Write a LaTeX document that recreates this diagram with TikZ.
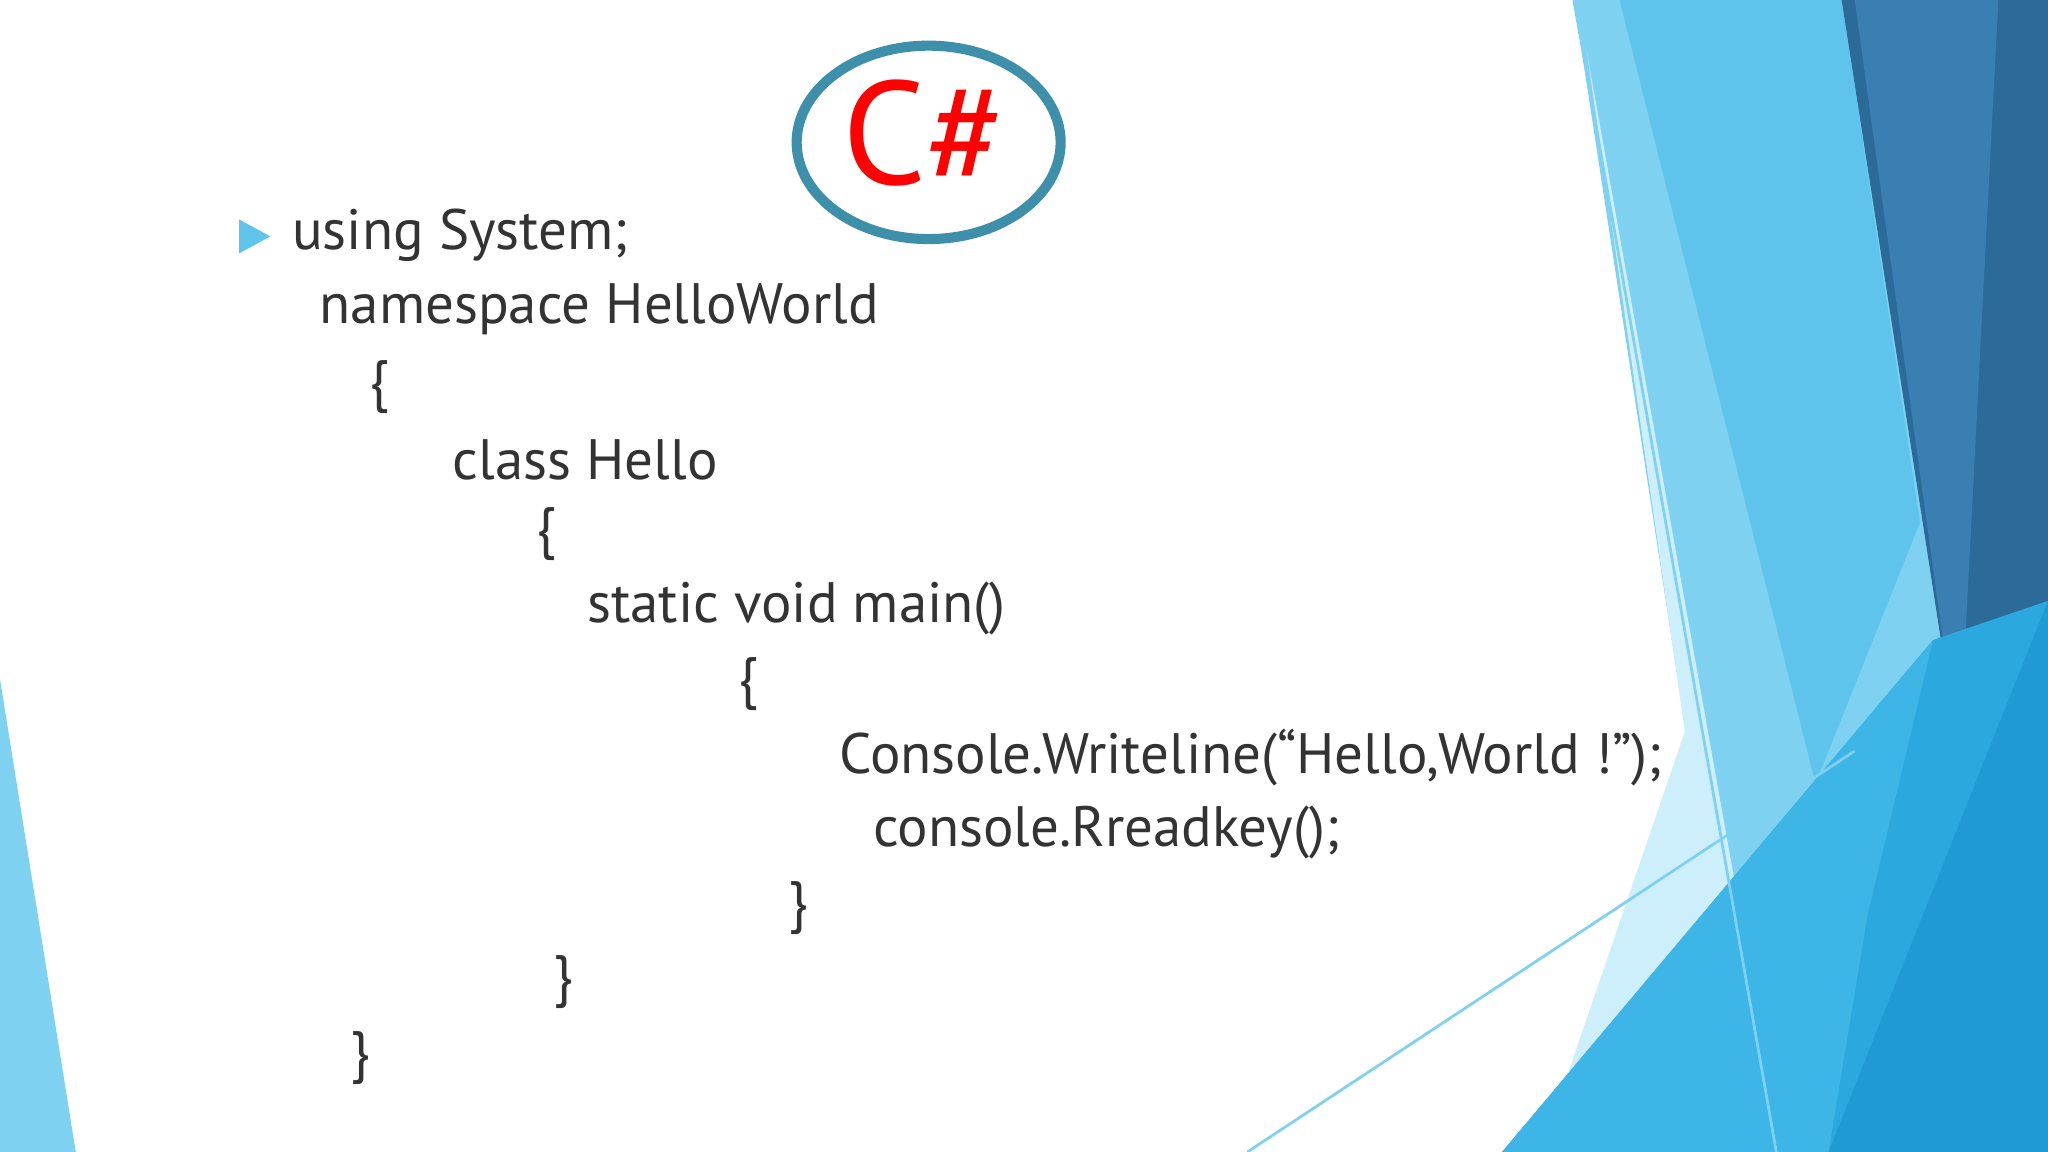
\documentclass[tikz,border=0pt]{standalone}
\usepackage{fontspec}
\setmainfont{PT Sans}
\usetikzlibrary{shapes.geometric}
\definecolor{lb}{HTML}{7FD1F1}
\definecolor{vlb}{HTML}{CDEEFB}
\definecolor{mb}{HTML}{5FC4EC}
\definecolor{db}{HTML}{2C6A9A}
\definecolor{db2}{HTML}{3A7FB2}
\definecolor{bc}{HTML}{3DB5E6}
\definecolor{bc2}{HTML}{1F9AD3}
\definecolor{bc3}{HTML}{2BA8DE}
\begin{document}
\begin{tikzpicture}[x=0.01cm,y=-0.01cm,
 code/.style={anchor=west,inner sep=0pt,text=black!80,font=\fontsize{12.4}{15}\selectfont}]
\useasboundingbox (0,0) rectangle (1568,882);
\fill[white] (0,0) rectangle (1568,882);
% background shapes
\fill[lb] (1205,0) -- (1420,0) -- (1500,580) -- (1568,882) -- (1340,882) -- cycle;
\fill[vlb] (1215,40) -- (1365,882) -- (1180,882) -- (1290,560) -- cycle;
\fill[mb] (1240,0) -- (1410,0) -- (1470,400) -- (1390,600) -- cycle;
\fill[db] (1410,0) -- (1568,0) -- (1568,460) -- (1500,580) -- cycle;
\fill[db2] (1420,0) -- (1530,0) -- (1500,580) -- cycle;
\fill[bc3] (1150,882) -- (1480,490) -- (1568,460) -- (1568,882) -- cycle;
\fill[bc2] (1568,460) -- (1400,882) -- (1568,882) -- cycle;
\fill[bc] (1480,490) -- (1430,700) -- (1400,882) -- (1150,882) -- cycle;
\draw[lb,line width=0.6pt] (1205,0) -- (1360,882);
\draw[lb,line width=0.6pt] (955,882) -- (1420,575);
\fill[lb] (0,520) -- (0,882) -- (58,882) -- cycle;
% logo
\node[draw={rgb,255:red,62;green,143;blue,170},line width=2.2pt,ellipse,minimum width=2.02cm,minimum height=1.48cm,fill=white] (logo) at (711,109) {};
\node[text=red,font=\fontsize{32}{36}\selectfont] (cs) at (708,102) {C\#};
% bullet
\fill[mb] (183,168) -- (207,181) -- (183,194) -- cycle;
\node[code] (l1) at (223,180) {using System;};
\node[code] (l2) at (244,237) {namespace HelloWorld};
\node[code] (l3) at (282,296) {\{};
\node[code] (l4) at (346,352) {class Hello};
\node[code] (l5) at (410,409) {\{};
\node[code] (l6) at (449,466) {static void main()};
\node[code] (l7) at (565,524) {\{};
\node[code] (l8) at (642,580) {Console.Writeline(“Hello,World !”);};
\node[code] (l9) at (668,637) {console.Rreadkey();};
\node[code] (l10) at (603,695) {\}};
\node[code] (l11) at (423,752) {\}};
\node[code] (l12) at (268,810) {\}};
\end{tikzpicture}
\end{document}
